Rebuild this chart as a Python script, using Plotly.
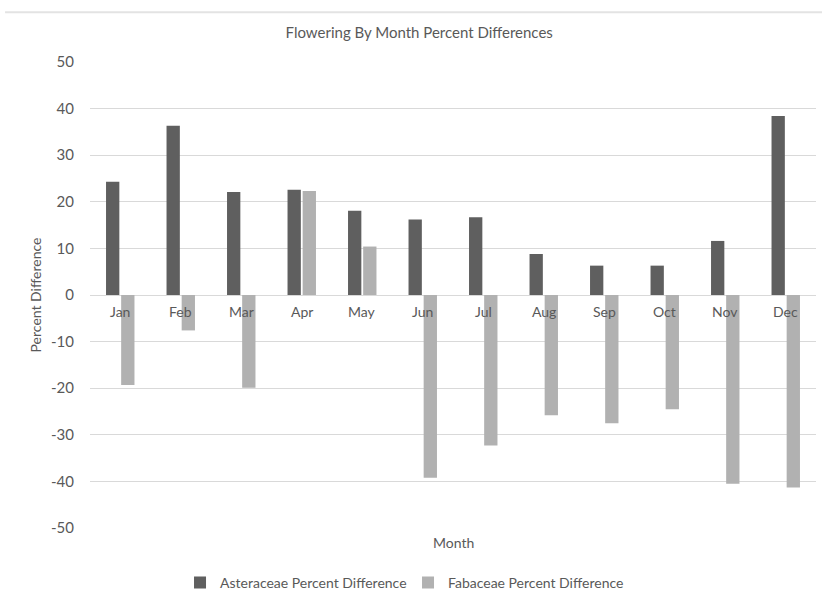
import plotly.graph_objects as go

months = ["Jan", "Feb", "Mar", "Apr", "May", "Jun", "Jul", "Aug", "Sep", "Oct", "Nov", "Dec"]
asteraceae = [24.3, 36.3, 22.1, 22.6, 18.1, 16.2, 16.7, 8.8, 6.3, 6.3, 11.6, 38.4]
fabaceae = [-19.3, -7.6, -19.9, 22.3, 10.4, -39.2, -32.3, -25.8, -27.5, -24.5, -40.5, -41.3]
y_tickvals = [50, 40, 30, 20, 10, 0, -10, -20, -30, -40, -50]
y_ticktext = ["50", "40", "30", "20", "10", "0", "-10", "-20", "-30", "-40", "-50"]

FONT = "Lato, 'Open Sans', sans-serif"
TXT = "#595959"

fig = go.Figure()
fig.add_trace(go.Bar(x=months, y=asteraceae, name="Asteraceae Percent Difference",
                     marker=dict(color="#5f5f5f", line=dict(width=0))))
fig.add_trace(go.Bar(x=months, y=fabaceae, name="Fabaceae Percent Difference",
                     marker=dict(color="#b1b1b1", line=dict(width=0))))

# Month labels sit just below the zero line
for m in months:
    fig.add_annotation(x=m, y=0, text=m, showarrow=False, yanchor="top", yshift=-6,
                       font=dict(family=FONT, size=14, color=TXT))

fig.add_annotation(x=0.5, xref="paper", y=0, yref="paper", yanchor="top", yshift=-4,
                   text="Month", showarrow=False, font=dict(family=FONT, size=14, color=TXT))

# thin top border line
fig.add_shape(type="line", xref="paper", yref="paper", x0=-0.117, x1=1.01, y0=1.107, y1=1.107,
              line=dict(color="#e3e3e3", width=2))

fig.update_layout(
    width=822, height=604,
    margin=dict(l=90, r=6, t=62, b=76, autoexpand=False),
    paper_bgcolor="white", plot_bgcolor="white",
    title=dict(text="Flowering By Month Percent Differences", x=0.51, xanchor="center",
               y=0.945, yanchor="middle", font=dict(family=FONT, size=15, color=TXT)),
    barmode="group", bargap=0.5, bargroupgap=0.12,
    showlegend=True,
    legend=dict(orientation="h", xref="container", x=0.219, xanchor="left",
                yref="container", y=0.035, yanchor="middle",
                font=dict(family=FONT, size=14, color=TXT), itemwidth=30,
                entrywidth=183, traceorder="normal"),
    xaxis=dict(showticklabels=False, showgrid=False, showline=False, ticks="", zeroline=False),
    yaxis=dict(range=[-50, 50], tickvals=y_tickvals, ticktext=y_ticktext,
               showgrid=True, gridcolor="#d9d9d9", gridwidth=1,
               zeroline=True, zerolinecolor="#d9d9d9", zerolinewidth=1,
               showline=False, ticks="", ticklabelstandoff=15,
               tickfont=dict(family=FONT, size=15, color=TXT),
               title=dict(text="Percent Difference", standoff=6,
                          font=dict(family=FONT, size=14, color=TXT))),
)

fig.write_html("out.html", config={"displayModeBar": False},
               post_script="document.body.style.margin='0px';")
